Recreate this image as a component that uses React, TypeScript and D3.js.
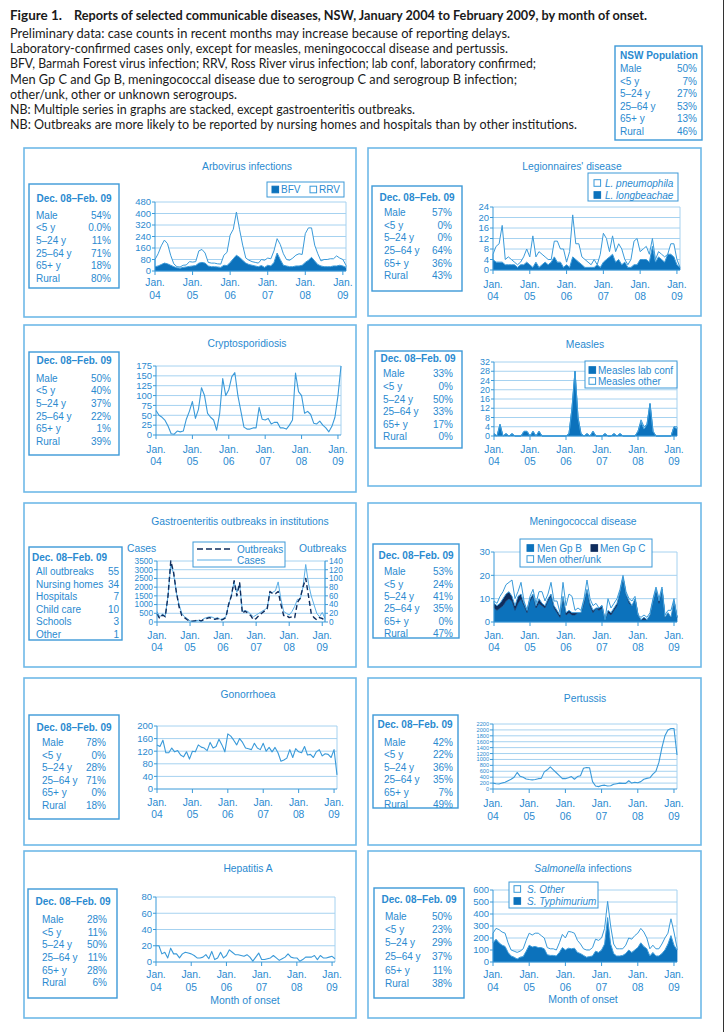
import React from "react";
import * as d3 from "d3";

const N_MONTHS = 62;
const yearLabels = ["04", "05", "06", "07", "08", "09"];

// ---------- data ----------
const arboBFV = [30,35,45,55,50,40,30,22,20,25, 28,32,35,38,55,60,55,35,30,30, 28,25,40,38,60,85,110,95,75,55, 45,40,35,30,38,25,40,35,60,125, 80,40,35,30,30,35,35,40,60,75, 95,70,45,35,30,30,30,35,35,40, 35,25];
const arboRRV = [50,85,130,160,140,70,20,8,8,15, 14,33,27,27,85,90,70,25,25,25, 22,23,70,92,190,205,300,195,105,35, 30,25,25,25,42,50,50,50,80,100, 105,80,45,45,60,75,85,75,200,225, 205,110,75,35,50,50,55,50,70,50, 45,15];

const legLongbeachae = [4,3,3,3,2,2,2,2,1,2, 2,3,2,1,3,1,2,3,2,3, 5,3,3,1,2,1,5,4,3,2, 1,1,1,1,2,1,3,4,5,6, 3,4,2,3,1,1,2,2,4,4, 4,3,9,3,5,4,3,6,6,5, 2,1];
const legPneumophila = [2,6,7,14,2,3,2,1,1,1, 3,5,3,12,2,6,4,2,2,1, 6,8,5,7,1,6,16,6,7,3, 3,2,1,3,0,5,11,8,2,7, 4,6,6,1,1,3,9,10,3,4, 5,3,3,1,2,2,2,0,4,5, 2,0];

const cryptoCases = [62,50,45,37,22,3,2,10,8,10, 40,60,85,42,65,120,100,55,45,38, 12,55,143,100,115,148,158,100,60,20, 15,15,18,18,70,40,38,42,28,32, 32,18,18,15,25,38,157,110,100,55, 60,52,30,28,35,25,18,8,22,45, 100,175];

const measlesLabConf = [1,0,5,0,1,0,1,0,0,0, 2,2,0,2,0,2,0,0,0,0, 0,0,0,0,0,1,12,28,8,1, 0,1,0,2,0,0,0,1,0,0, 1,0,1,0,0,0,0,0,2,6, 3,5,14,2,0,0,0,0,0,0, 4,3];
const measlesOther = [0,0,0,0,0,0,0,0,0,0, 0,0,0,0,0,0,0,0,0,0, 0,0,0,0,0,0,0,0,0,0, 0,0,0,0,0,0,0,0,0,0, 0,0,0,0,0,0,0,0,0,1, 1,0,0,0,0,0,0,0,0,0, 0,1];

const gastroCases = [600,300,450,350,1500,3300,2800,1700,1000,500, 300,200,60,40,60,100,60,200,250,300, 280,200,250,150,200,300,1000,1500,2300,1700, 2200,600,650,600,450,300,400,500,600,700, 800,1700,1700,1800,2300,1300,600,500,400,600, 900,1300,1300,2000,3300,2200,1500,1000,500,300, 550,200];
const gastroOutbreaks = [18,8,16,12,60,140,115,70,35,15, 10,5,2,2,3,5,2,6,8,10, 8,6,8,4,6,10,40,60,95,60, 90,20,25,20,15,5,8,15,20,25, 30,70,65,65,70,40,15,15,10,12, 10,45,55,80,100,60,20,10,5,10, 8,3];

const menGpB = [6,5,6,7,9,10,9,5,8,10, 7,4,9,11,6,8,7,6,9,11, 6,4,2,10,3,4,3,3,4,4, 8,14,7,4,6,5,6,1,4,3, 5,7,13,19,12,8,7,10,3,1, 1,1,3,9,14,8,14,2,4,2, 9,2];
const menGpC = [2,2,2,3,3,3,2,2,3,2, 1,1,1,1,1,2,1,1,1,1, 1,1,1,1,1,1,1,1,0,0, 1,0,1,1,0,1,1,0,1,1, 1,1,0,0,0,1,0,0,0,0, 1,0,0,0,0,1,0,0,0,0, 0,0];
const menOther = [1,1,3,3,4,4,7,3,2,5, 1,0,1,2,1,3,5,2,2,5, 2,4,1,6,3,7,7,1,2,1, 1,4,2,2,2,0,0,0,5,2, 2,2,1,1,1,1,2,1,0,1, 1,1,1,1,1,1,1,1,1,3, 1,0];

const gonorrhoeaCases = [140,135,155,115,115,130,118,122,108,102, 118,95,120,118,140,133,130,122,148,130, 135,158,140,118,175,168,155,140,160,148, 130,128,125,145,130,125,145,120,132,118, 132,115,88,92,98,125,100,128,118,115, 135,108,110,100,118,125,105,112,110,100, 125,45];

const pertussisCases = [200,180,170,200,230,280,330,400,560,430, 400,340,320,310,320,350,360,580,650,750, 650,550,450,350,350,380,420,330,420,450, 700,730,720,250,100,80,120,130,100,110, 160,180,200,190,190,280,200,230,210,250, 330,360,380,500,600,900,1400,1800,2000,2050, 2050,1150];

const hepatitisACases = [20,20,10,12,5,17,10,10,5,10, 12,11,10,8,5,5,6,9,4,13, 3,5,12,5,8,15,12,9,9,8, 7,9,6,1,6,11,3,3,4,5, 8,5,2,4,6,10,6,5,5,1, 3,6,6,6,8,3,8,5,5,6, 7,4];

const salTyphimurium = [160,190,160,140,130,80,50,40,25,40, 45,90,140,125,130,120,120,110,60,55, 55,50,80,120,100,115,110,115,80,70, 55,40,45,50,90,80,100,150,370,150, 70,50,50,55,70,100,80,100,120,160, 130,110,50,80,50,50,70,100,150,220, 140,100];
const salOther = [80,90,110,110,110,80,50,50,55,50, 65,90,100,100,110,120,100,90,60,55, 55,50,80,110,100,140,140,125,100,80, 55,60,55,70,100,100,100,130,135,150, 80,60,60,55,70,100,110,120,120,120, 120,90,60,60,60,60,80,100,90,140, 110,20];

const statLabels = ["Male", "<5 y", "5–24 y", "25–64 y", "65+ y", "Rural"];
const nswStatValues = ["50%", "7%", "27%", "53%", "13%", "46%"];
const arboStatValues = ["54%", "0.0%", "11%", "71%", "18%", "80%"];
const legStatValues = ["57%", "0%", "0%", "64%", "36%", "43%"];
const cryptoStatValues = ["50%", "40%", "37%", "22%", "1%", "39%"];
const measlesStatValues = ["33%", "0%", "50%", "33%", "17%", "0%"];
const gastroStatLabels = ["All outbreaks", "Nursing homes", "Hospitals", "Child care", "Schools", "Other"];
const gastroStatValues = ["55", "34", "7", "10", "3", "1"];
const menStatValues = ["53%", "24%", "41%", "35%", "0%", "47%"];
const gonoStatValues = ["78%", "0%", "28%", "71%", "0%", "18%"];
const pertStatValues = ["42%", "22%", "36%", "35%", "7%", "49%"];
const hepStatValues = ["28%", "11%", "50%", "11%", "28%", "6%"];
const salStatValues = ["50%", "23%", "29%", "37%", "11%", "38%"];

// ---------- style ----------
const FONT = "'Liberation Sans', Arial, Helvetica, sans-serif";
const HFONT = "Lato, 'Open Sans', sans-serif";
const COL = {
  text: "#2a8ad0",
  line: "#3a9ad9",
  fill: "#0c72bc",
  navy: "#0f2c5c",
  grid: "#a6d2f0",
  frame: "#6fb9e8",
  box: "#3d99d8",
  dark: "#1a1a1a",
};

const HEADER = "Dec. 08–Feb. 09";

function Stats({ s }: any) {
  const [x0, y0, x1, y1] = s.box;
  return (
    <g fontFamily={FONT} fill={COL.text} fontSize={10}>
      <rect x={x0} y={y0} width={x1 - x0} height={y1 - y0} fill="white" stroke={COL.box} strokeWidth={1.4} />
      <text x={s.hx} y={s.hy} dy="0.35em" fontWeight="bold" textAnchor={s.hAnchor || "middle"}
        {...(s.hLen ? { textLength: s.hLen, lengthAdjust: "spacingAndGlyphs" } : {})}>{s.header || HEADER}</text>
      {s.labels.map((lab: string, k: number) => (
        <g key={k}>
          <text x={s.labelX} y={s.rowsY[k]} dy="0.35em">{lab}</text>
          <text x={s.valueX} y={s.rowsY[k]} dy="0.35em" textAnchor="end">{s.values[k]}</text>
        </g>
      ))}
    </g>
  );
}

function Legend({ box, items }: any) {
  return (
    <g fontFamily={FONT} fontSize={10} fill={COL.text}>
      <rect x={box[0]} y={box[1]} width={box[2] - box[0]} height={box[3] - box[1]} fill="white" stroke={COL.box} strokeWidth={1} />
      {items.map((it: any, k: number) => {
        let mark;
        if (it.kind === "dash") {
          mark = <line x1={it.sx} x2={it.x2} y1={it.y} y2={it.y} stroke={COL.navy} strokeWidth={1.6} strokeDasharray="6,3" />;
        } else if (it.kind === "line") {
          mark = <line x1={it.sx} x2={it.x2} y1={it.y} y2={it.y} stroke="#5aaee6" strokeWidth={1} />;
        } else {
          const f = it.kind === "fill" ? COL.fill : it.kind === "navy" ? COL.navy : "white";
          const st = it.kind === "white" ? COL.line : f;
          mark = <rect x={it.sx} y={it.y - 3.3} width={6.6} height={6.6} fill={f} stroke={st} strokeWidth={1} />;
        }
        return (
          <g key={k}>
            {mark}
            <text x={it.tx} y={it.y} dy="0.35em" fontStyle={it.italic ? "italic" : "normal"}>{it.label}</text>
          </g>
        );
      })}
    </g>
  );
}

function Plot({ p, xl }: any) {
  const x = d3.scaleLinear().domain([0, N_MONTHS - 1]).range([p.x0, p.x1]);
  const y = d3.scaleLinear().domain([0, p.max]).range([p.yBottom, p.yTop]);
  const ticks = d3.range(0, p.max + p.step / 2, p.step);
  const y2 = p.right ? d3.scaleLinear().domain([0, p.right.max]).range([p.yBottom, p.yTop]) : null;
  const ticks2 = p.right ? d3.range(0, p.right.max + p.right.step / 2, p.right.step) : [];
  const fs = p.fs || 9.5;

  const areas: any[] = [];
  if (p.stack) {
    const keys = p.stack.map((_: any, k: number) => "s" + k);
    const table = d3.range(N_MONTHS).map((i) => {
      const o: any = { i };
      p.stack.forEach((s: any, k: number) => (o["s" + k] = s.values[i]));
      return o;
    });
    const layers = d3.stack().keys(keys)(table);
    const area = d3.area<any>().x((d: any) => x(d.data.i)).y0((d: any) => y(d[0])).y1((d: any) => y(d[1]));
    layers.forEach((L: any, k: number) => {
      const kind = p.stack[k].kind;
      const f = kind === "fill" ? COL.fill : kind === "navy" ? COL.navy : "white";
      const st = kind === "white" ? COL.line : f;
      areas.push(<path key={"a" + k} d={area(L) || ""} fill={f} stroke={st} strokeWidth={kind === "white" ? 1 : 0.5} strokeLinejoin="round" />);
    });
  }
  const lines: any[] = [];
  if (p.lines) {
    p.lines.forEach((l: any, k: number) => {
      const yy = l.axis === "right" && y2 ? y2 : y;
      const gen = d3.line<number>().x((_, i) => x(i)).y((d) => yy(d));
      lines.push(
        <path key={"l" + k} d={gen(l.values) || ""} fill="none" stroke={l.stroke || COL.line}
          strokeWidth={l.width || 1.1} strokeDasharray={l.dash || undefined} strokeLinejoin="round" />
      );
    });
  }

  return (
    <g fontFamily={FONT} fill={COL.text}>
      {ticks.slice(1).map((t: number) => (
        <line key={"g" + t} x1={p.x0} x2={p.x1} y1={y(t)} y2={y(t)} stroke={COL.grid} strokeWidth={1} />
      ))}
      <line x1={p.x1} x2={p.x1} y1={p.yTop} y2={p.yBottom} stroke={COL.grid} strokeWidth={1} />
      {areas}
      {lines}
      <line x1={p.x0} x2={p.x0} y1={p.yTop} y2={p.yBottom} stroke={COL.line} strokeWidth={1} />
      <line x1={p.x0} x2={p.x1} y1={p.yBottom} y2={p.yBottom} stroke={COL.line} strokeWidth={1} />
      {p.right && <line x1={p.x1} x2={p.x1} y1={p.yTop} y2={p.yBottom} stroke={COL.line} strokeWidth={1} />}
      {ticks.map((t: number) => (
        <g key={"t" + t}>
          <line x1={p.x0 - 3} x2={p.x0} y1={y(t)} y2={y(t)} stroke={COL.line} strokeWidth={1} />
          <text x={p.x0 - 4} y={y(t)} dy="0.35em" textAnchor="end" fontSize={fs}>{t}</text>
        </g>
      ))}
      {y2 && ticks2.map((t: number) => (
        <g key={"r" + t}>
          <line x1={p.x1} x2={p.x1 + 3} y1={y2(t)} y2={y2(t)} stroke={COL.line} strokeWidth={1} />
          <text x={p.x1 + 4} y={y2(t)} dy="0.35em" textAnchor="start" fontSize={fs}>{t}</text>
        </g>
      ))}
      {yearLabels.map((yl, k) => (
        <g key={"x" + k}>
          <line x1={x(12 * k)} x2={x(12 * k)} y1={p.yBottom} y2={p.yBottom + 4} stroke={COL.line} strokeWidth={1} />
          <text x={x(12 * k)} y={xl[0]} dy="0.35em" textAnchor="middle" fontSize={10.3}>Jan.</text>
          <text x={x(12 * k)} y={xl[1]} dy="0.35em" textAnchor="middle" fontSize={10.3}>{yl}</text>
        </g>
      ))}
      {p.axisTitles && p.axisTitles.map((a: any, k: number) => (
        <text key={"at" + k} x={a.x} y={a.y} dy="0.35em" fontSize={10.3}>{a.t}</text>
      ))}
    </g>
  );
}

function Panel({ c }: any) {
  const [fx0, fy0, fx1, fy1] = c.frame;
  return (
    <g>
      <rect x={fx0} y={fy0} width={fx1 - fx0} height={fy1 - fy0} fill="white" stroke={COL.frame} strokeWidth={1.6} />
      <text x={c.title.x} y={c.title.y} dy="0.35em" textAnchor="middle" fontSize={10.3} fill={COL.text} fontFamily={FONT}>
        {c.title.parts.map((pt: any, k: number) => (
          <tspan key={k} fontStyle={pt.italic ? "italic" : "normal"}>{pt.t}</tspan>
        ))}
      </text>
      <Stats s={c.stats} />
      <Plot p={c.plot} xl={c.xLab} />
      {c.legend && <Legend box={c.legend.box} items={c.legend.items} />}
      {c.xTitle && (
        <text x={c.xTitle.x} y={c.xTitle.y} dy="0.35em" textAnchor="middle" fontSize={10.5} fill={COL.text} fontFamily={FONT}>
          Month of onset
        </text>
      )}
    </g>
  );
}

const panels: any[] = [
  {
    frame: [24, 148, 356, 317],
    title: { x: 247, y: 166, parts: [{ t: "Arbovirus infections" }] },
    stats: { box: [29, 184, 119, 288], hx: 74, hy: 198, labelX: 36, valueX: 111, rowsY: [215, 227, 240, 253, 265, 278], labels: statLabels, values: arboStatValues },
    plot: { x0: 155, x1: 346, yTop: 202, yBottom: 271, max: 480, step: 80, stack: [{ values: arboBFV, kind: "fill" }, { values: arboRRV, kind: "white" }] },
    xLab: [282, 295],
    legend: { box: [267, 182, 344, 197], items: [
      { kind: "fill", sx: 272, tx: 281, y: 189.5, label: "BFV" },
      { kind: "white", sx: 310, tx: 319, y: 189.5, label: "RRV" },
    ] },
  },
  {
    frame: [368, 148, 701, 316],
    title: { x: 572, y: 166, parts: [{ t: "Legionnaires' disease" }] },
    stats: { box: [372, 186, 462, 291], hx: 417, hy: 197, labelX: 384, valueX: 452, rowsY: [212, 225, 237, 250, 263, 275], labels: statLabels, values: legStatValues },
    plot: { x0: 493, x1: 680, yTop: 207, yBottom: 270, max: 24, step: 4, stack: [{ values: legLongbeachae, kind: "fill" }, { values: legPneumophila, kind: "white" }] },
    xLab: [284, 296],
    legend: { box: [588, 173, 678, 201], items: [
      { kind: "white", sx: 594, tx: 605, y: 183, label: "L. pneumophila", italic: true },
      { kind: "fill", sx: 594, tx: 605, y: 195, label: "L. longbeachae", italic: true },
    ] },
  },
  {
    frame: [24, 325, 356, 492],
    title: { x: 247, y: 343, parts: [{ t: "Cryptosporidiosis" }] },
    stats: { box: [29, 352, 119, 455], hx: 74, hy: 360, labelX: 36, valueX: 111, rowsY: [378, 390, 403, 416, 428, 441], labels: statLabels, values: cryptoStatValues },
    plot: { x0: 156, x1: 341, yTop: 366, yBottom: 435, max: 175, step: 25, lines: [{ values: cryptoCases }] },
    xLab: [449, 461],
  },
  {
    frame: [368, 325, 701, 486],
    title: { x: 585, y: 344, parts: [{ t: "Measles" }] },
    stats: { box: [375, 351, 462, 448], hx: 418, hy: 358, labelX: 383, valueX: 453, rowsY: [373, 386, 399, 411, 424, 436], labels: statLabels, values: measlesStatValues },
    plot: { x0: 494, x1: 677, yTop: 362, yBottom: 436, max: 32, step: 4, fs: 9, stack: [{ values: measlesLabConf, kind: "fill" }, { values: measlesOther, kind: "white" }] },
    xLab: [449, 461],
    legend: { box: [585, 361, 677, 388], items: [
      { kind: "fill", sx: 589, tx: 598, y: 370, label: "Measles lab conf" },
      { kind: "white", sx: 589, tx: 598, y: 381, label: "Measles other" },
    ] },
  },
  {
    frame: [24, 503, 356, 667],
    title: { x: 240, y: 521, parts: [{ t: "Gastroenteritis outbreaks in institutions" }] },
    stats: { box: [29, 547, 122, 640], hx: 32, hy: 557, hAnchor: "start", labelX: 36, valueX: 119, rowsY: [571, 584, 596, 609, 621, 634], labels: gastroStatLabels, values: gastroStatValues },
    plot: {
      x0: 157, x1: 325, yTop: 561, yBottom: 622, max: 3500, step: 500, fs: 8.3,
      right: { max: 140, step: 20 },
      lines: [
        { values: gastroCases, stroke: "#5aaee6", width: 1 },
        { values: gastroOutbreaks, axis: "right", stroke: COL.navy, width: 1.4, dash: "5,3" },
      ],
      axisTitles: [{ x: 127, y: 548, t: "Cases" }, { x: 299, y: 548, t: "Outbreaks" }],
    },
    xLab: [635, 647],
    legend: { box: [193, 542, 285, 567], items: [
      { kind: "dash", sx: 197, x2: 232, tx: 237, y: 549, label: "Outbreaks" },
      { kind: "line", sx: 197, x2: 232, tx: 237, y: 560, label: "Cases" },
    ] },
  },
  {
    frame: [368, 503, 701, 667],
    title: { x: 583, y: 521, parts: [{ t: "Meningococcal disease" }] },
    stats: { box: [373, 544, 459, 638], hx: 416, hy: 555, labelX: 384, valueX: 453, rowsY: [571, 584, 596, 608, 621, 633], labels: statLabels, values: menStatValues },
    plot: { x0: 494, x1: 677, yTop: 552, yBottom: 622, max: 30, step: 10, stack: [
      { values: menGpB, kind: "fill" }, { values: menGpC, kind: "navy" }, { values: menOther, kind: "white" },
    ] },
    xLab: [635, 647],
    legend: { box: [520, 539, 652, 567], items: [
      { kind: "fill", sx: 527, tx: 537, y: 548, label: "Men Gp B" },
      { kind: "navy", sx: 591, tx: 600, y: 548, label: "Men Gp C" },
      { kind: "white", sx: 527, tx: 537, y: 559, label: "Men other/unk" },
    ] },
  },
  {
    frame: [24, 678, 356, 845],
    title: { x: 248, y: 694, parts: [{ t: "Gonorrhoea" }] },
    stats: { box: [29, 715, 119, 819], hx: 74, hy: 727, labelX: 42, valueX: 106, rowsY: [742, 755, 767, 780, 792, 805], labels: statLabels, values: gonoStatValues },
    plot: { x0: 157, x1: 337, yTop: 726, yBottom: 789, max: 200, step: 40, lines: [{ values: gonorrhoeaCases }] },
    xLab: [802, 814],
  },
  {
    frame: [368, 678, 701, 845],
    title: { x: 585, y: 698, parts: [{ t: "Pertussis" }] },
    stats: { box: [373, 715, 458, 808], hx: 415, hy: 724, labelX: 384, valueX: 453, rowsY: [742, 754, 767, 779, 792, 804], labels: statLabels, values: pertStatValues },
    plot: { x0: 493, x1: 677, yTop: 724, yBottom: 789, max: 2200, step: 200, fs: 5.6, lines: [{ values: pertussisCases }] },
    xLab: [803, 816],
  },
  {
    frame: [24, 851, 356, 1018],
    title: { x: 248, y: 868, parts: [{ t: "Hepatitis A" }] },
    stats: { box: [28, 889, 117, 998], hx: 73, hy: 901, labelX: 42, valueX: 107, rowsY: [919, 932, 944, 957, 970, 982], labels: statLabels, values: hepStatValues },
    plot: { x0: 156, x1: 335, yTop: 897, yBottom: 962, max: 80, step: 20, lines: [{ values: hepatitisACases }] },
    xLab: [974, 987],
    xTitle: { x: 245, y: 1000 },
  },
  {
    frame: [368, 851, 701, 1018],
    title: { x: 583, y: 868, parts: [{ t: "Salmonella", italic: true }, { t: " infections" }] },
    stats: { box: [374, 888, 464, 998], hx: 419, hy: 899, labelX: 385, valueX: 452, rowsY: [916, 929, 942, 956, 970, 983], labels: statLabels, values: salStatValues },
    plot: { x0: 493, x1: 677, yTop: 890, yBottom: 962, max: 600, step: 100, stack: [{ values: salTyphimurium, kind: "fill" }, { values: salOther, kind: "white" }] },
    xLab: [974, 987],
    xTitle: { x: 583, y: 999 },
    legend: { box: [509, 882, 598, 908], items: [
      { kind: "white", sx: 514, tx: 527, y: 889, label: "S. Other", italic: true },
      { kind: "fill", sx: 514, tx: 527, y: 901, label: "S. Typhimurium", italic: true },
    ] },
  },
];

export default function App() {
  const bodyLines: [string, number, number][] = [
    ["Preliminary data: case counts in recent months may increase because of reporting delays.", 33, 500],
    ["Laboratory-confirmed cases only, except for measles, meningococcal disease and pertussis.", 48, 498],
    ["BFV, Barmah Forest virus infection; RRV, Ross River virus infection; lab conf, laboratory confirmed;", 63, 526],
    ["Men Gp C and Gp B, meningococcal disease due to serogroup C and serogroup B infection;", 79, 507],
    ["other/unk, other or unknown serogroups.", 94, 227],
    ["NB: Multiple series in graphs are stacked, except gastroenteritis outbreaks.", 109, 405],
    ["NB: Outbreaks are more likely to be reported by nursing homes and hospitals than by other institutions.", 124, 567],
  ];
  return (
    <svg width={725} height={1032} style={{ position: "absolute", left: 0, top: 0, display: "block", background: "white" }}>
      <rect x={0} y={0} width={725} height={1032} fill="white" />
      <line x1={723.5} x2={723.5} y1={0} y2={1032} stroke="#333" strokeWidth={1} />
      <g fontFamily={HFONT} fill={COL.dark} fontSize={13}>
        <text x={10} y={15} dy="0.35em" fontWeight="bold" textLength={52} lengthAdjust="spacingAndGlyphs">Figure 1.</text>
        <text x={74} y={15} dy="0.35em" fontWeight="bold" textLength={573} lengthAdjust="spacingAndGlyphs">
          Reports of selected communicable diseases, NSW, January 2004 to February 2009, by month of onset.
        </text>
        {bodyLines.map(([t, yy, w], k) => (
          <text key={k} x={10} y={yy} dy="0.35em" textLength={w} lengthAdjust="spacingAndGlyphs">{t}</text>
        ))}
      </g>
      <Stats s={{ box: [615, 46, 702, 140], header: "NSW Population", hx: 620, hy: 55, hAnchor: "start", hLen: 78, labelX: 620, valueX: 697, rowsY: [68, 81, 93, 106, 118, 131], labels: statLabels, values: nswStatValues }} />
      {panels.map((c, k) => (
        <Panel key={k} c={c} />
      ))}
    </svg>
  );
}
